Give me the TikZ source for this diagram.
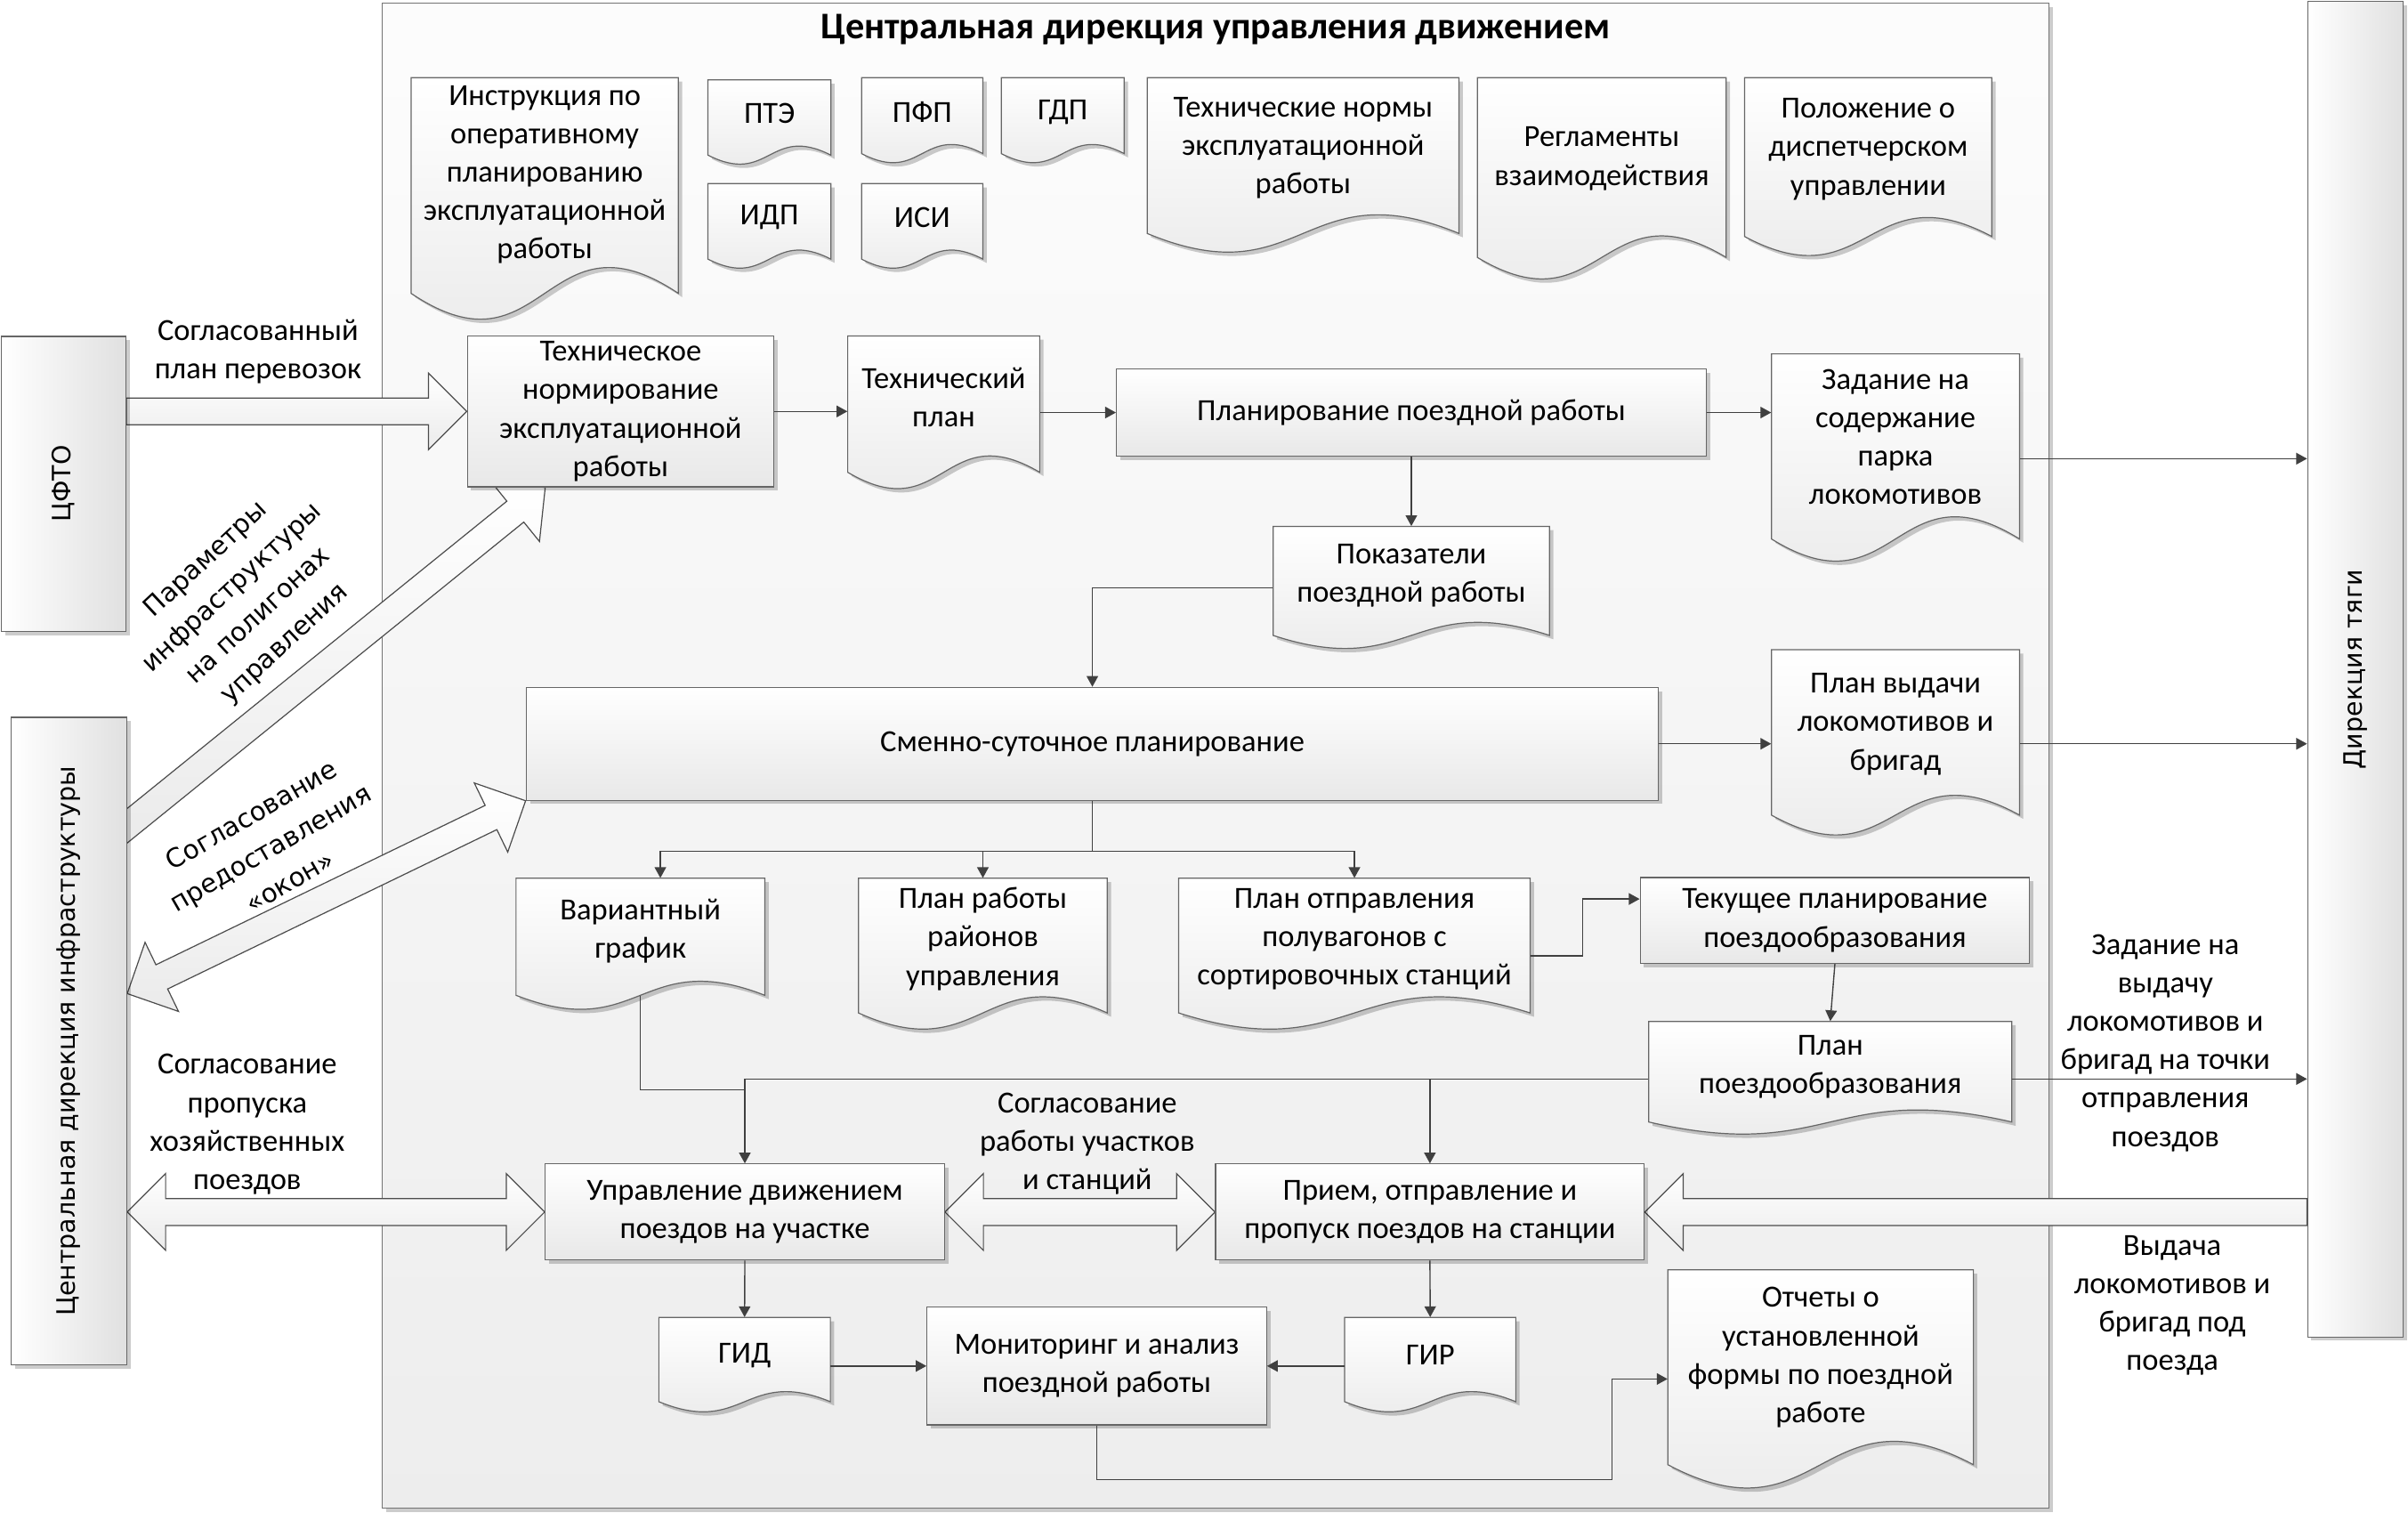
\documentclass[tikz,border=0pt]{standalone}
\usepackage{fontspec}
\setmainfont{Carlito}
\newfontfamily\sidefont{DejaVu Sans}
\usetikzlibrary{calc,shadows,arrows.meta}
\pgfdeclarelayer{frame}
\pgfdeclarelayer{back}
\pgfsetlayers{frame,back,main}

% document shape with a wavy bottom, text node on top
\newcommand{\docnode}[6]{%
  \pgfmathsetmacro\docH{#5-#3}%
  \pgfmathsetmacro\docK{0.415*\docH}%
  \pgfmathsetmacro\docM{0.5*(#2+#4)}%
  \begin{pgfonlayer}{back}
    \path[docshape] (#2,#3) -- (#4,#3) -- (#4,#5)
      .. controls (\docM,#5-\docK) and (\docM,#5+\docK) .. (#2,#5) -- cycle;
  \end{pgfonlayer}
  \node[doctext, minimum width={(#4-#2)*1pt}, minimum height={0.9*\docH*1pt}]
    (#1) at (\docM,{#3+0.45*\docH}) {#6};
}

\begin{document}
\begin{tikzpicture}[x=1pt,y=-1pt]
  \tikzstyle{every node}=[font=\fontsize{20}{25}\selectfont]
  \tikzstyle{shad}=[drop shadow={shadow xshift=2.5pt,shadow yshift=-2.5pt,opacity=0.2,fill=black}]
  \tikzstyle{box}=[shad,draw=black!60,line width=0.7pt,top color=white,bottom color=black!9,inner sep=0pt,align=center]
  \tikzstyle{docshape}=[shad,draw=black!60,line width=0.7pt,top color=white,bottom color=black!9]
  \tikzstyle{doctext}=[inner sep=0pt,align=center]
  \tikzstyle{sidebox}=[shad,draw=black!60,line width=0.7pt,left color=white,right color=black!12,inner sep=0pt,font=\sidefont\fontsize{16.5}{20}\selectfont]
  \tikzstyle{framebox}=[shad,draw=black!55,line width=0.7pt,top color=black!1,bottom color=black!7]
  \tikzstyle{lbl}=[align=center,inner sep=0pt]
  \tikzstyle{rlbl}=[align=center,inner sep=0pt,font=\sidefont\fontsize{17}{25}\selectfont]
  \tikzstyle{conn}=[draw=black!75,line width=0.8pt]
  \tikzstyle{arr}=[conn,-{Triangle[length=7pt,width=7.5pt]}]
  \tikzstyle{bigarrow}=[draw=black!70,line width=0.7pt,top color=white,bottom color=black!8,
    to path={let \p1=(\tikztostart), \p2=(\tikztotarget),
      \n1={atan2(\y2-\y1,\x2-\x1)}, \n2={veclen(\x2-\x1,\y2-\y1)} in
      ($(\p1)+(\n1+90:8.75pt)$) -- ($(\p1)+(\n1:{\n2-25pt})+(\n1+90:8.75pt)$)
      -- ($(\p1)+(\n1:{\n2-25pt})+(\n1+90:25pt)$) -- (\p2)
      -- ($(\p1)+(\n1:{\n2-25pt})+(\n1-90:25pt)$) -- ($(\p1)+(\n1:{\n2-25pt})+(\n1-90:8.75pt)$)
      -- ($(\p1)+(\n1-90:8.75pt)$) -- cycle}]
  \tikzstyle{bigdarrow}=[draw=black!70,line width=0.7pt,top color=white,bottom color=black!8,
    to path={let \p1=(\tikztostart), \p2=(\tikztotarget),
      \n1={atan2(\y2-\y1,\x2-\x1)}, \n2={veclen(\x2-\x1,\y2-\y1)} in
      (\p1) -- ($(\p1)+(\n1:25pt)+(\n1+90:25pt)$) -- ($(\p1)+(\n1:25pt)+(\n1+90:8.75pt)$)
      -- ($(\p1)+(\n1:{\n2-25pt})+(\n1+90:8.75pt)$) -- ($(\p1)+(\n1:{\n2-25pt})+(\n1+90:25pt)$)
      -- (\p2)
      -- ($(\p1)+(\n1:{\n2-25pt})+(\n1-90:25pt)$) -- ($(\p1)+(\n1:{\n2-25pt})+(\n1-90:8.75pt)$)
      -- ($(\p1)+(\n1:25pt)+(\n1-90:8.75pt)$) -- ($(\p1)+(\n1:25pt)+(\n1-90:25pt)$) -- cycle}]

  \useasboundingbox (0,0) rectangle (1568,985);

  % main frame
  \begin{pgfonlayer}{frame}
    \node[framebox,minimum width=1085pt,minimum height=980pt] (cdud) at (791.5,492) {};
  \end{pgfonlayer}
  \node[font=\fontsize{24.5}{29}\selectfont\bfseries] (title) at (791.5,19) {Центральная дирекция управления движением};

  % outside units
  \node[sidebox,minimum width=81pt,minimum height=192pt] (cfto) at (41.5,315) {\rotatebox{90}{ЦФТО}};
  \node[sidebox,minimum width=75.2pt,minimum height=421.8pt] (cdi) at (44.9,677.9) {\rotatebox{90}{Центральная дирекция инфраструктуры}};
  \node[sidebox,minimum width=62.4pt,minimum height=869.4pt] (dtyagi) at (1533.8,435.7) {\rotatebox{90}{Дирекция тяги}};

  % documents
  \docnode{instr}{267.7}{50.6}{441.7}{191}{Инструкция по\\оперативному\\планированию\\эксплуатационной\\работы}
  \docnode{pte}{461}{52}{541}{101}{ПТЭ}
  \docnode{pfp}{561}{50.6}{640}{100}{ПФП}
  \docnode{gdp}{652}{50.6}{732}{100}{ГДП}
  \docnode{idp}{461}{119.5}{541}{168.7}{ИДП}
  \docnode{isi}{561}{119.5}{640}{168.7}{ИСИ}
  \docnode{tnorms}{747}{50.6}{950}{152}{Технические нормы\\эксплуатационной\\работы}
  \docnode{reglam}{962}{50.6}{1124}{167.6}{Регламенты\\взаимодействия}
  \docnode{polozh}{1136}{50.6}{1297}{154}{Положение о\\диспетчерском\\управлении}
  \docnode{tplan}{552}{218.7}{677}{307.5}{Технический\\план}
  \docnode{zadanie}{1153.5}{230.4}{1315}{350.9}{Задание на\\содержание\\парка\\локомотивов}
  \docnode{pokaz}{829}{342.7}{1009}{413.7}{Показатели\\поездной работы}
  \docnode{pvydachi}{1153.5}{423}{1315}{530.7}{План выдачи\\локомотивов и\\бригад}
  \docnode{variant}{336}{571.8}{498}{648}{Вариантный\\график}
  \docnode{prabot}{559}{571.8}{721}{659.5}{План работы\\районов\\управления}
  \docnode{potpr}{767.5}{571.8}{996.4}{659.5}{План отправления\\полувагонов с\\сортировочных станций}
  \docnode{ppoezd}{1073.6}{665}{1310}{730.5}{План\\поездообразования}
  \docnode{gid}{429}{857.7}{540.7}{912.6}{ГИД}
  \docnode{gir}{875.6}{857.7}{987}{912.6}{ГИР}
  \docnode{otchety}{1086}{826.7}{1285}{953.6}{Отчеты о\\установленной\\формы по поездной\\работе}

  % processes
  \node[box,minimum width=199.6pt,minimum height=98.3pt] (tnorm) at (404.1,267.85) {Техническое\\нормирование\\эксплуатационной\\работы};
  \node[box,minimum width=384pt,minimum height=56.4pt] (planir) at (919,268.6) {Планирование поездной работы};
  \node[box,minimum width=737.4pt,minimum height=73.5pt] (smenno) at (711.3,484.25) {Сменно-суточное планирование};
  \node[box,minimum width=253.6pt,minimum height=56pt] (tekush) at (1194.8,599.3) {Текущее планирование\\поездообразования};
  \node[box,minimum width=260pt,minimum height=62.6pt] (upravl) at (485,789.1) {Управление движением\\поездов на участке};
  \node[box,minimum width=279.2pt,minimum height=62.6pt] (priem) at (931.1,789.1) {Прием, отправление и\\пропуск поездов на станции};
  \node[box,minimum width=221.1pt,minimum height=76.7pt] (monit) at (714.15,889.35) {Мониторинг и анализ\\поездной работы};

  % labels
  \node[lbl] (lsoglplan) at (168,229) {Согласованный\\план перевозок};
  \node[rlbl,rotate=43] (lparam) at (160,392) {Параметры\\инфраструктуры\\на полигонах\\управления};
  \node[rlbl,rotate=30] (lokon) at (176,552) {Согласование\\предоставления\\«окон»};
  \node[lbl] (lhoz) at (161,732) {Согласование\\пропуска\\хозяйственных\\поездов};
  \node[lbl] (luchst) at (708,744.5) {Согласование\\работы участков\\и станций};
  \node[lbl] (lzadvyd) at (1410,679) {Задание на\\выдачу\\локомотивов и\\бригад на точки\\отправления\\поездов};
  \node[lbl] (lvydacha) at (1414.5,850) {Выдача\\локомотивов и\\бригад под\\поезда};

  % block arrows
  \begin{pgfonlayer}{back}
    \draw[bigarrow] (cfto.east |- tnorm.west) to (tnorm.west);
    \coordinate (cdiup) at ($(cdi.east)+(-7.8,-134)$);
    \draw[bigarrow] (cdiup) to ($(tnorm.south west)!0.255!(tnorm.south east)$);
    \draw[bigdarrow] ($(cdi.east)+(0,-31)$) to (smenno.south west);
    \draw[bigdarrow] (cdi.east |- upravl.west) to (upravl.west);
    \draw[bigdarrow] (upravl.east) to (priem.west);
    \draw[bigarrow] (dtyagi.west |- priem.east) to (priem.east);
  \end{pgfonlayer}

  % connectors
  \draw[arr] (tnorm.east) -- (tnorm.east -| tplan.west);
  \draw[arr] (tplan.east |- planir.west) -- (planir.west);
  \draw[arr] (planir.east) -- (planir.east -| zadanie.west);
  \coordinate (zo) at ($(zadanie.east)+(0,14)$);
  \draw[arr] (zo) -- (zo -| dtyagi.west);
  \draw[arr] (planir.south) -- (pokaz.north);
  \coordinate (pk) at ($(pokaz.west)+(0,8)$);
  \draw[arr] (pk) -| (smenno.north);
  \draw[arr] (smenno.east) -- (smenno.east -| pvydachi.west);
  \draw[arr] (pvydachi.east |- smenno.east) -- (smenno.east -| dtyagi.west);
  \coordinate (sbr) at ($(smenno.south)+(0,33)$);
  \draw[conn] (smenno.south) -- (sbr);
  \draw[arr] (sbr) -| ($(variant.north)+(13,0)$);
  \draw[arr] (sbr) -| (prabot.north);
  \draw[arr] (sbr) -| (potpr.north);
  \coordinate (po) at ($(potpr.east)+(0,11)$);
  \coordinate (tk) at ($(tekush.west)+(0,-14)$);
  \draw[arr] (po) -- ++(34,0) |- (tk);
  \draw[arr] (tekush.south) -- (ppoezd.north);
  \coordinate (ppe) at ($(ppoezd.east)+(0,8)$);
  \coordinate (ppw) at ($(ppoezd.west)+(0,8)$);
  \draw[arr] (ppe) -- (ppe -| dtyagi.west);
  \draw[arr] (ppw) -| (upravl.north);
  \draw[arr] (ppw -| priem.north) -- (priem.north);
  \coordinate (vb) at ($(variant.south)+(0,7.6)$);
  \coordinate (vj) at ($(upravl.north)+(0,-47.8)$);
  \draw[conn] (vb) |- (vj);
  \draw[arr] (upravl.south) -- (gid.north);
  \draw[arr] (priem.south) -- (gir.north);
  \draw[arr] (gid.east |- monit.west) -- (monit.west);
  \draw[arr] (gir.west |- monit.east) -- (monit.east);
  \coordinate (ow) at ($(otchety.west)+(0,14)$);
  \coordinate (mo) at ($(ow)+(-36,65.6)$);
  \draw[arr] (monit.south) |- (mo) |- (ow);

\end{tikzpicture}
\end{document}
